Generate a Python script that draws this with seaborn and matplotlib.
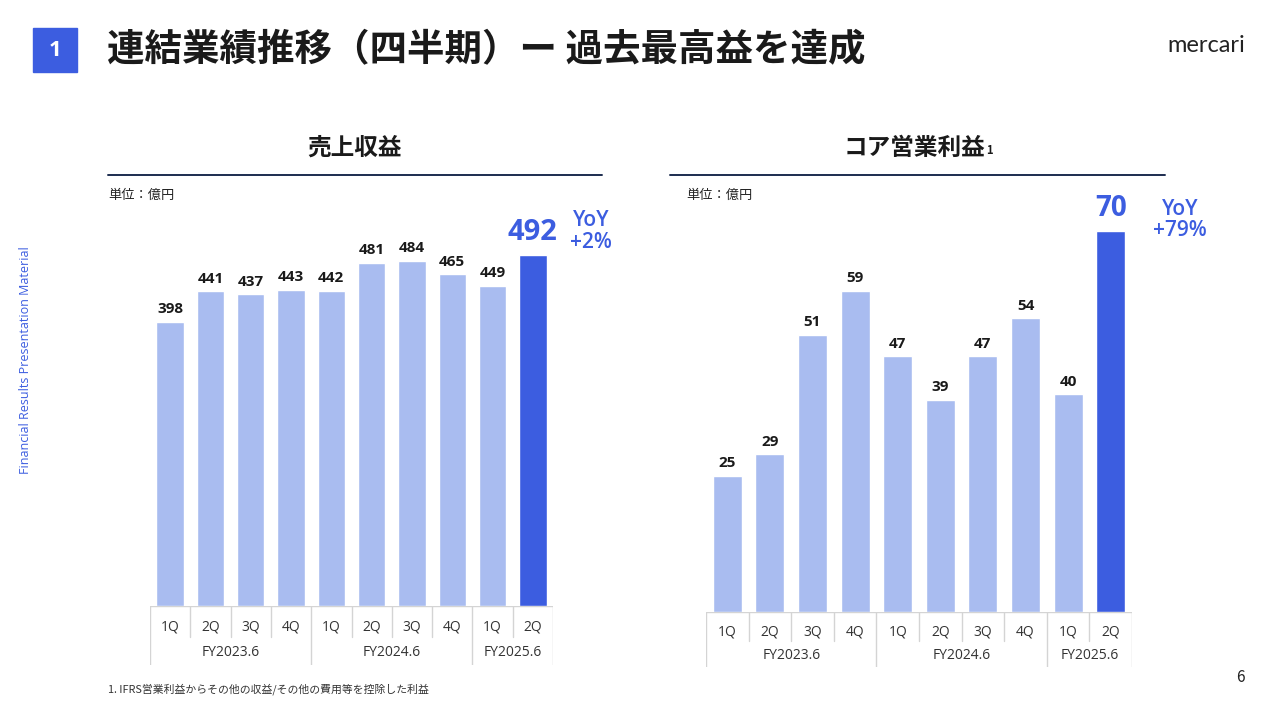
import numpy as np
import pandas as pd
import matplotlib.pyplot as plt
import seaborn as sns
from matplotlib.patches import Rectangle
from matplotlib.lines import Line2D

# data (億円)
quarters = ["1Q", "2Q", "3Q", "4Q", "1Q", "2Q", "3Q", "4Q", "1Q", "2Q"]
fiscal_years = ["FY2023.6"] * 4 + ["FY2024.6"] * 4 + ["FY2025.6"] * 2
revenue = [398, 441, 437, 443, 442, 481, 484, 465, 449, 492]
core_op_profit = [25, 29, 51, 59, 47, 39, 47, 54, 40, 70]
yoy_revenue = "+2%"
yoy_core = "+79%"

LIGHT = "#a9bcf0"
DARK = "#3c5de0"
GRID = "#d4d4d4"
NAVY = "#1c2c4f"

sns.set_theme(style="white")
plt.rcParams["font.family"] = ["Noto Sans CJK JP", "DejaVu Sans"]

W, H = 1280, 721
fig = plt.figure(figsize=(W / 100, H / 100), dpi=100)


def rect(x0, y0, x1, y1):
    # pixel box (top-left origin) -> figure fraction
    return [x0 / W, 1 - y1 / H, (x1 - x0) / W, (y1 - y0) / H]


def fx(x):
    return x / W


def fy(y):
    return 1 - y / H


def draw_panel(values, yoy, plot_box, table_box, ymax, big_size, yoy_offset):
    df = pd.DataFrame({
        "period": [f"{f} {q}" for f, q in zip(fiscal_years, quarters)],
        "value": values,
    })
    colors = [LIGHT] * (len(values) - 1) + [DARK]

    ax = fig.add_axes(rect(*plot_box))
    sns.barplot(data=df, x="period", y="value", hue="period", palette=colors,
                width=0.68, saturation=1, legend=False, ax=ax)
    ax.set_xlim(-0.5, len(values) - 0.5)
    ax.set_ylim(0, ymax)
    ax.axis("off")

    n = len(ax.containers)
    for i, c in enumerate(ax.containers):
        if i == n - 1:
            ax.bar_label(c, fmt="%d", padding=6, fontsize=big_size,
                         fontweight="bold", color=DARK, family="Open Sans")
        else:
            ax.bar_label(c, fmt="%d", padding=4, fontsize=11,
                         fontweight="bold", color="#1a1a1a", family="Open Sans")

    ax.annotate(f"YoY\n{yoy}", xy=(n - 1, values[-1]), xytext=yoy_offset,
                textcoords="offset points", ha="center", va="center",
                fontsize=15, fontweight="semibold", color=DARK,
                family="Open Sans", linespacing=1.05, annotation_clip=False)

    # category table under the bars
    tab = fig.add_axes(rect(*table_box))
    tab.set_xlim(-0.5, len(values) - 0.5)
    tab.set_ylim(1, 0)
    tab.axis("off")
    split = 0.52
    tab.plot([-0.5, len(values) - 0.5], [0, 0], color=GRID, lw=1)
    for b in range(len(values) + 1):
        group_edge = b == 0 or b == len(values) or fiscal_years[b] != fiscal_years[b - 1]
        tab.plot([b - 0.5, b - 0.5], [0, 1 if group_edge else split],
                 color=GRID, lw=1)
    for i, q in enumerate(quarters):
        tab.text(i, 0.36, q, ha="center", va="center", fontsize=10,
                 color="#333333", family="Open Sans")
    for f in dict.fromkeys(fiscal_years):
        idx = [i for i, v in enumerate(fiscal_years) if v == f]
        tab.text(np.mean(idx), 0.79, f, ha="center", va="center", fontsize=10,
                 color="#333333", family="Open Sans")


draw_panel(revenue, yoy_revenue, (150, 180, 553, 606), (150, 606, 553, 665),
           (606 - 180) / 0.7135, 21, (42, 17))
draw_panel(core_op_profit, yoy_core, (706, 180, 1132, 612), (706, 612, 1132, 667),
           (612 - 180) / 5.44, 20, (50, 8))

# page header
fig.add_artist(Rectangle((fx(33), fy(72)), 44 / W, 44 / H, color=DARK,
                         transform=fig.transFigure))
fig.text(fx(55), fy(50), "1", ha="center", va="center", fontsize=16,
         fontweight="bold", color="white", family="Open Sans")
fig.text(fx(107), fy(50), "連結業績推移（四半期）ー 過去最高益を達成", ha="left",
         va="center", fontsize=27, fontweight="bold", color="#1a1a1a")
fig.text(fx(1245), fy(46), "mercari", ha="right", va="center", fontsize=17,
         color="#222222", family="Lato")

# panel headers
fig.text(fx(355), fy(148), "売上収益", ha="center", va="center", fontsize=17,
         fontweight="bold", color="#1a1a1a")
fig.text(fx(914), fy(148), "コア営業利益", ha="center", va="center", fontsize=17,
         fontweight="bold", color="#1a1a1a")
fig.text(fx(986), fy(157), "1", ha="left", va="bottom", fontsize=8,
         fontweight="bold", color="#1a1a1a")
for x0, x1 in [(108, 602), (670, 1165)]:
    fig.add_artist(Line2D([fx(x0), fx(x1)], [fy(175), fy(175)], color=NAVY,
                          lw=1.4, transform=fig.transFigure))
fig.text(fx(108), fy(195), "単位：億円", ha="left", va="center", fontsize=9.5,
         color="#222222")
fig.text(fx(686), fy(195), "単位：億円", ha="left", va="center", fontsize=9.5,
         color="#222222")

# side label, footnote, page number
fig.text(fx(26), fy(360), "Financial Results Presentation Material", rotation=90,
         ha="center", va="center", fontsize=9, color=DARK, family="Open Sans")
fig.text(fx(108), fy(689), "1. IFRS営業利益からその他の収益/その他の費用等を控除した利益",
         ha="left", va="center", fontsize=7.8, color="#333333")
fig.text(fx(1240), fy(677), "6", ha="center", va="center", fontsize=11,
         color="#222222")

fig.savefig("out.png", dpi=100)
